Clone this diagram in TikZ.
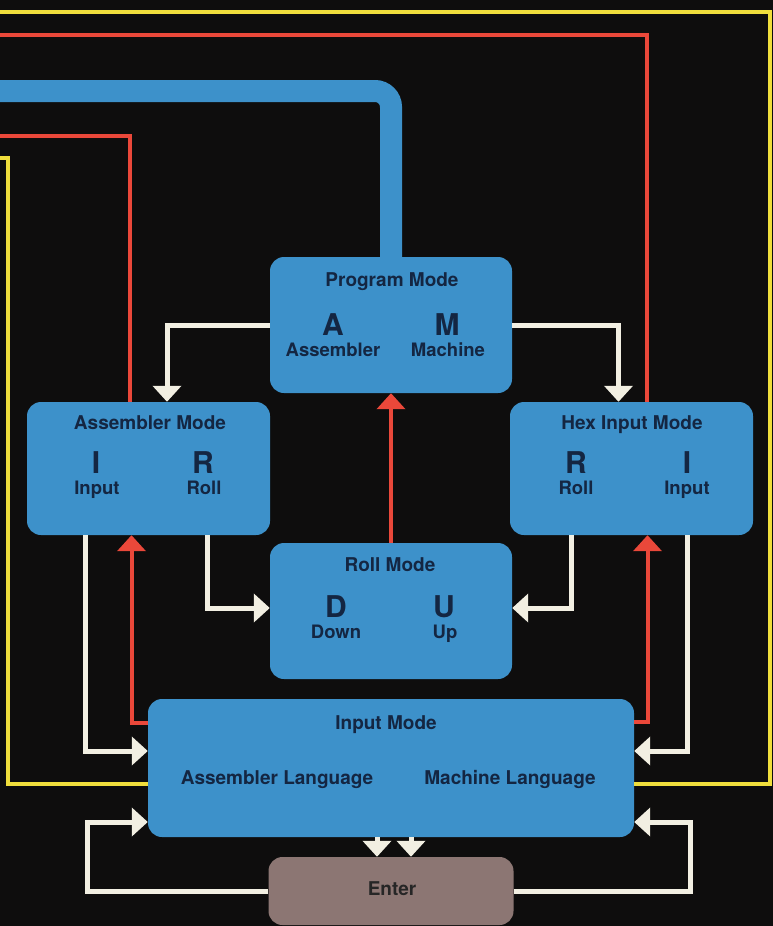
\documentclass[tikz,border=0pt]{standalone}
\usepackage{fontspec}
\setmainfont{TeX Gyre Heros}
\usetikzlibrary{arrows.meta,positioning}

\definecolor{modeblue}{RGB}{61,145,202}
\definecolor{inkblue}{RGB}{20,38,66}
\definecolor{cream}{RGB}{242,239,226}
\definecolor{wirered}{RGB}{234,72,58}
\definecolor{wireyellow}{RGB}{240,222,60}
\definecolor{entergray}{RGB}{140,118,115}
\definecolor{board}{RGB}{14,13,13}

\begin{document}
\begin{tikzpicture}[x=1pt,y=-1pt,>={Triangle[width=28pt,length=16pt]}]

  \tikzstyle{mode box}=[rectangle,rounded corners=14pt,fill=modeblue,inner sep=0pt]
  \tikzstyle{mode title}=[text=inkblue,inner sep=0pt,text height=13.6pt,text depth=0pt,font=\bfseries\fontsize{19}{22}\selectfont]
  \tikzstyle{big letter}=[text=inkblue,inner sep=0pt,text height=21.5pt,text depth=0pt,font=\bfseries\fontsize{30}{32}\selectfont]
  \tikzstyle{mode label}=[text=inkblue,inner sep=0pt,text height=13.3pt,text depth=0pt,font=\bfseries\fontsize{18.5}{21}\selectfont]
  \tikzstyle{wire}=[draw=cream,line width=5pt]
  \tikzstyle{red wire}=[draw=wirered,line width=4pt]
  \tikzstyle{yellow wire}=[draw=wireyellow,line width=4pt]
  \tikzstyle{blue wire}=[draw=modeblue,line width=22pt]

  \useasboundingbox (0,0) rectangle (773,926);
  \fill[board] (0,0) rectangle (773,926);
  \clip (0,0) rectangle (773,926);

  \coordinate (yel top end) at (-6,12);
  \coordinate (yel left end) at (-6,158);
  \coordinate (red top end) at (-6,35);
  \coordinate (red low end) at (-6,136);
  \coordinate (blue end) at (-6,91);

  \path (391,325) node[mode box,minimum width=242pt,minimum height=136pt] (prog) {}
       +(1,-45)   node[mode title] (progT) {Program Mode}
       +(-58,0)   node[big letter] (progA) {A}
       +(-58,25)  node[mode label] (progAs) {Assembler}
       +(56,0)    node[big letter] (progM) {M}
       +(57,25)   node[mode label] (progMa) {Machine}
        ;

  \path (148.5,468.5) node[mode box,minimum width=243pt,minimum height=133pt] (asm) {}
       +(1.5,-45.5) node[mode title] (asmT) {Assembler Mode}
       +(-52.5,-5.5) node[big letter] (asmI) {I}
       +(-51.5,19.5) node[mode label] (asmIn) {Input}
       +(54.5,-5.5)  node[big letter] (asmR) {R}
       +(55.5,19.5)  node[mode label] (asmRo) {Roll}
        ;

  \path (631.5,468.5) node[mode box,minimum width=243pt,minimum height=133pt] (hex) {}
       +(0.5,-45.5)  node[mode title] (hexT) {Hex Input Mode}
       +(-55.5,-5.5) node[big letter] (hexR) {R}
       +(-55.5,19.5) node[mode label] (hexRo) {Roll}
       +(55.5,-5.5)  node[big letter] (hexI) {I}
       +(55.5,19.5)  node[mode label] (hexIn) {Input}
        ;

  \path (391,611) node[mode box,minimum width=242pt,minimum height=136pt] (roll) {}
       +(-1,-46)  node[mode title] (rollT) {Roll Mode}
       +(-55,-4)  node[big letter] (rollD) {D}
       +(-55,21)  node[mode label] (rollDo) {Down}
       +(53,-4)   node[big letter] (rollU) {U}
       +(54,21)   node[mode label] (rollUp) {Up}
        ;

  \path (391,768) node[mode box,minimum width=486pt,minimum height=138pt] (inp) {}
       +(-5,-45)  node[mode title] (inpT) {Input Mode}
       +(-114,10) node[mode title] (inpAL) {Assembler Language}
       +(119,10)  node[mode title] (inpML) {Machine Language}
        ;

  \path (391,891) node[mode box,fill=entergray,minimum width=245pt,minimum height=68pt] (enter) {}
       +(1,-2)    node[mode title,text=black!85] (enterT) {Enter}
        ;

  \draw[blue wire,rounded corners=16pt] (prog.north) |- (blue end);
  \draw[red wire] ([xshift=15.5pt]hex.north) |- (red top end);
  \draw[red wire] ([xshift=-18.5pt]asm.north) |- (red low end);
  \draw[yellow wire] ([yshift=-16pt]inp.east) -- ++(136,0) |- (yel top end);
  \draw[yellow wire] ([yshift=-16pt]inp.west) -- ++(-140,0) |- (yel left end);

  \draw[wire,->] (prog.west) -| ([xshift=18.5pt]asm.north);
  \draw[wire,->] (prog.east) -| ([xshift=-13pt]hex.north);
  \draw[red wire,->] (roll.north) -- (prog.south);
  \draw[wire,->] ([xshift=58.5pt]asm.south) |- ([yshift=3pt]roll.west);
  \draw[wire,->] ([xshift=-60.5pt]hex.south) |- ([yshift=3pt]roll.east);
  \draw[wire,->] ([xshift=-63pt]asm.south) |- ([yshift=17pt]inp.west);
  \draw[red wire,->] ([yshift=45pt]inp.west) -| ([xshift=-17pt]asm.south);
  \draw[wire,->] ([xshift=56pt]hex.south) |- ([yshift=17pt]inp.east);
  \draw[red wire,->] ([yshift=46pt]inp.east) -| ([xshift=16pt]hex.south);
  \draw[wire,->] ([xshift=-14pt]inp.south) -- ([xshift=-14pt]enter.north);
  \draw[wire,->] ([xshift=20pt]inp.south) -- ([xshift=20pt]enter.north);
  \draw[wire,->] (enter.west) -| ([xshift=-60pt,yshift=-54pt]inp.west) -- ([yshift=-54pt]inp.west);
  \draw[wire,->] (enter.east) -| ([xshift=56pt,yshift=-54pt]inp.east) -- ([yshift=-54pt]inp.east);

\end{tikzpicture}
\end{document}
